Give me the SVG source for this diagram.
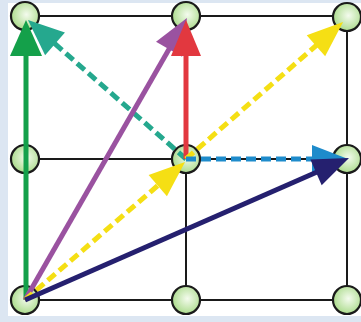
<svg xmlns="http://www.w3.org/2000/svg" width="361" height="322" viewBox="0 0 361 322">
<defs>
<radialGradient id="gball" cx="0.55" cy="0.45" r="0.6">
<stop offset="0" stop-color="#f4fbee"/>
<stop offset="1" stop-color="#a6d985"/>
</radialGradient>
<marker id="m-green" markerUnits="userSpaceOnUse" viewBox="0 -17 40 34" markerWidth="40" markerHeight="34" refX="16" refY="0" orient="auto" overflow="visible"><path d="M0,-16 L36,0 L0,16 z" fill="#14a04a"/></marker>
<marker id="m-teal" markerUnits="userSpaceOnUse" viewBox="0 -17 40 34" markerWidth="40" markerHeight="34" refX="16" refY="0" orient="auto" overflow="visible"><path d="M0,-15 L36,0 L0,15 z" fill="#25a88e"/></marker>
<marker id="m-purple" markerUnits="userSpaceOnUse" viewBox="0 -17 40 34" markerWidth="40" markerHeight="34" refX="16" refY="0" orient="auto" overflow="visible"><path d="M0,-15 L36,0 L0,15 z" fill="#9a52a0"/></marker>
<marker id="m-red" markerUnits="userSpaceOnUse" viewBox="0 -17 40 34" markerWidth="40" markerHeight="34" refX="16" refY="0" orient="auto" overflow="visible"><path d="M0,-15 L36,0 L0,15 z" fill="#e2383f"/></marker>
<marker id="m-yellow" markerUnits="userSpaceOnUse" viewBox="0 -17 40 34" markerWidth="40" markerHeight="34" refX="16" refY="0" orient="auto" overflow="visible"><path d="M0,-14 L36,0 L0,14 z" fill="#f5df14"/></marker>
<marker id="m-blue" markerUnits="userSpaceOnUse" viewBox="0 -17 40 34" markerWidth="40" markerHeight="34" refX="16" refY="0" orient="auto" overflow="visible"><path d="M0,-14 L36,0 L0,14 z" fill="#1e8bcb"/></marker>
<marker id="m-navy" markerUnits="userSpaceOnUse" viewBox="0 -17 40 34" markerWidth="40" markerHeight="34" refX="16" refY="0" orient="auto" overflow="visible"><path d="M0,-14 L36,0 L0,14 z" fill="#25206f"/></marker>
</defs>
<style>
.grid{stroke:#1a1a1a;stroke-width:2;fill:none}
.ball{fill:url(#gball);stroke:#1a1a1a;stroke-width:2.2}
.arr{fill:none;stroke-width:5}
.dash{stroke-dasharray:10 5;stroke-width:5}
</style>
<rect x="0" y="0" width="361" height="322" fill="#dce6f2"/>
<rect x="8" y="3" width="353" height="313" fill="#ffffff"/>
<g id="grid">
<path class="grid" d="M25,16 H347 M25,159 H347 M25,300 H347 M25,16 V300 M186,16 V300 M347,16 V300"/>
</g>
<g id="n-tl"><circle class="ball" cx="25" cy="16" r="14"/></g>
<g id="n-tm"><circle class="ball" cx="186" cy="16" r="14"/></g>
<g id="n-tr"><circle class="ball" cx="347" cy="17" r="14"/></g>
<g id="n-ml"><circle class="ball" cx="25" cy="159" r="14"/></g>
<g id="n-c"><circle class="ball" cx="186" cy="159" r="14"/></g>
<g id="n-mr"><circle class="ball" cx="347" cy="159" r="14"/></g>
<g id="n-bl"><circle class="ball" cx="25" cy="300" r="14"/></g>
<g id="n-bm"><circle class="ball" cx="186" cy="300" r="14"/></g>
<g id="n-br"><circle class="ball" cx="347" cy="300" r="14"/></g>
<g id="connectors">
<line class="arr" stroke="#14a04a" x1="26" y1="300" x2="26" y2="40" marker-end="url(#m-green)"/>
<line class="arr dash" stroke="#25a88e" x1="186" y1="159" x2="43" y2="33.3" marker-end="url(#m-teal)"/>
<line class="arr" stroke="#9a52a0" x1="25" y1="300" x2="177" y2="35.3" marker-end="url(#m-purple)"/>
<line class="arr" stroke="#e2383f" x1="186" y1="159" x2="186" y2="40" marker-end="url(#m-red)"/>
<line class="arr dash" stroke="#f5df14" x1="25" y1="300" x2="169.9" y2="175.1" marker-end="url(#m-yellow)"/>
<line class="arr dash" stroke="#f5df14" x1="186" y1="159" x2="328" y2="35.2" marker-end="url(#m-yellow)"/>
<line class="arr dash" stroke="#1e8bcb" stroke-dasharray="8 4" x1="186" y1="159" x2="328" y2="159" marker-end="url(#m-blue)"/>
<line class="arr" stroke="#25206f" x1="25" y1="300" x2="330.7" y2="166" marker-end="url(#m-navy)"/>
</g>
</svg>
